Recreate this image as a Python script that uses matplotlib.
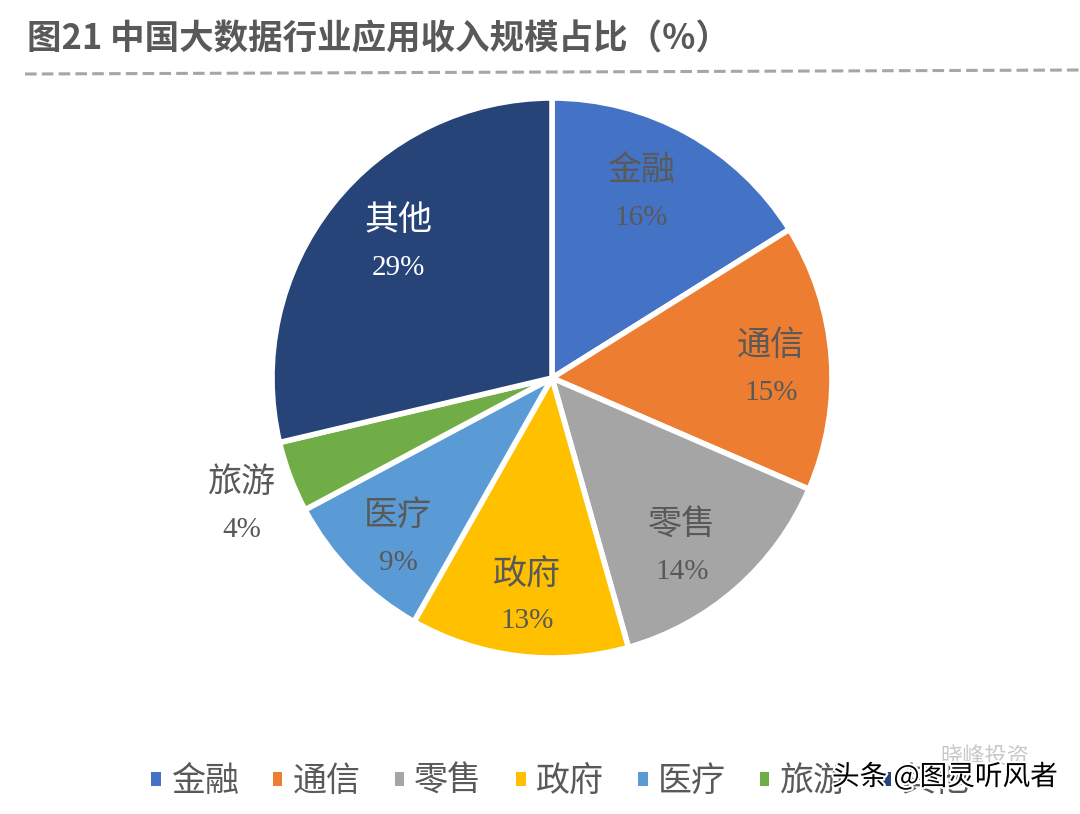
import numpy as np
import matplotlib
matplotlib.use("Agg")
import matplotlib.pyplot as plt
import matplotlib.patheffects as pe
from matplotlib.patches import Patch

categories = ["金融", "通信", "零售", "政府", "医疗", "旅游", "其他"]
shares = [16.1, 15.4, 14.1, 12.6, 9.0, 4.1, 28.7]
colors = ["#4472C4", "#ED7D31", "#A5A5A5", "#FFC000", "#5B9BD5", "#70AD47", "#264478"]
title = "图21 中国大数据行业应用收入规模占比（%）"

# label shift from the wedge middle, in pixels (x right, y down)
label_shift = [(-12, -2), (12, 7), (-7, 14), (0, 13), (-5, 16), (-116, 55), (9, -5)]

W, H = 1080, 814
SERIF = ["Liberation Serif", "Noto Sans CJK SC"]
SANS = ["Noto Sans CJK SC", "DejaVu Sans"]
GREY = "#595959"

fig = plt.figure(figsize=(W / 100, H / 100), dpi=100, facecolor="white")
ax = fig.add_axes([0, 0, 1, 1])

cx, cy, r = 552, H - 378, 280
wedges, _ = ax.pie(shares, colors=colors, startangle=90, counterclock=False,
                   center=(cx, cy), radius=r,
                   wedgeprops={"edgecolor": "white", "linewidth": 4})
ax.set_xlim(0, W)
ax.set_ylim(0, H)
ax.set_aspect("auto")
ax.axis("off")

for w, name, val, (dx, dy) in zip(wedges, categories, shares, label_shift):
    mid = np.deg2rad((w.theta1 + w.theta2) / 2)
    x = cx + 0.75 * 277 * np.cos(mid) + dx
    y = cy + 0.75 * 277 * np.sin(mid) - dy
    col = "white" if name == "其他" else GREY
    ax.text(x, y + 23, name, ha="center", va="center", fontsize=24.5,
            color=col, family=SERIF, fontweight="light")
    ax.text(x, y - 24, "%d%%" % round(val), ha="center", va="center", fontsize=21,
            color=col, family=SERIF)

# title and the dashed rule under it
ax.text(27, H - 39, title, ha="left", va="center", fontsize=24.8, color=GREY,
        family=SANS, fontweight="bold")
ax.plot([25, W], [H - 74, H - 70], color="#A6A6A6", lw=2.2, ls=(0, (3.8, 1.7)))

handles = [Patch(facecolor=c, edgecolor="none") for c in colors]
ax.legend(handles, categories, ncol=7, loc="center left",
          bbox_to_anchor=(151 / W, (H - 782) / H), frameon=False,
          prop={"family": SERIF, "size": 24.5}, labelcolor=GREY,
          handlelength=0.28, handleheight=0.28, handletextpad=0.3,
          columnspacing=1.0, borderpad=0, borderaxespad=0)

# watermarks on top of the legend
ax.text(940, H - 757, "晓峰投资", ha="left", va="center", fontsize=16,
        color="#C8C8C8", family=SANS, zorder=5)
ax.text(832, H - 777, "头条 @图灵听风者", ha="left", va="center", fontsize=19.9,
        color="black", family=SANS, zorder=6,
        path_effects=[pe.withStroke(linewidth=3, foreground="white")])

fig.savefig("out.png", dpi=100, facecolor="white")
